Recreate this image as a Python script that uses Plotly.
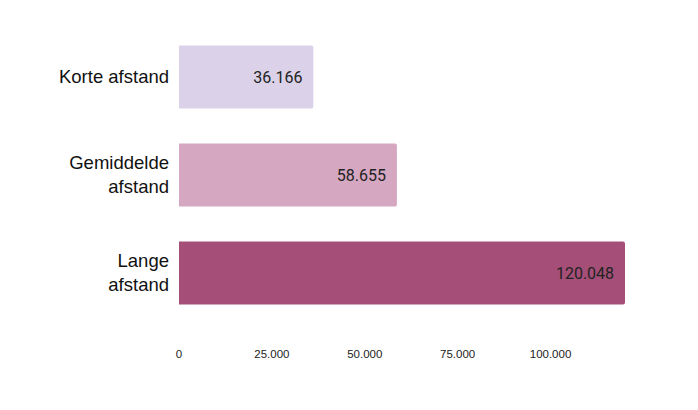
import plotly.graph_objects as go

categories = ["Korte afstand", "Gemiddelde<br>afstand", "Lange<br>afstand"]
values = [36166, 58655, 120048]
colors = ["#dbd2ea", "#d6a7c1", "#a54f78"]
tick_vals = [0, 25000, 50000, 75000, 100000]

fig = go.Figure(go.Bar(
    y=categories, x=values, orientation="h",
    marker=dict(color=colors, line=dict(width=0)),
    texttemplate="%{x:,d}\u00a0\u00a0", textposition="inside", insidetextanchor="end",
    textfont=dict(family="Roboto", size=16, color="#222222"),
    hoverinfo="skip",
))

fig.update_layout(
    width=698, height=410,
    margin=dict(l=171, r=81, t=20, b=96),
    paper_bgcolor="white", plot_bgcolor="white",
    separators=",.",
    bargap=0.357,
    barcornerradius=2,
    showlegend=False,
    xaxis=dict(range=[0, 120048], tickvals=tick_vals, tickformat=",d",
               showgrid=False, zeroline=False, showline=False, automargin=False,
               tickfont=dict(family="Liberation Sans", size=11.5, color="#222222"),
               ticklabelstandoff=23),
    yaxis=dict(autorange="reversed", showgrid=False, zeroline=False, showline=False,
               automargin=False,
               tickfont=dict(family="Liberation Sans", size=18.5, color="#111111"),
               ticklabelstandoff=9),
)

fig.write_html("out.html")
